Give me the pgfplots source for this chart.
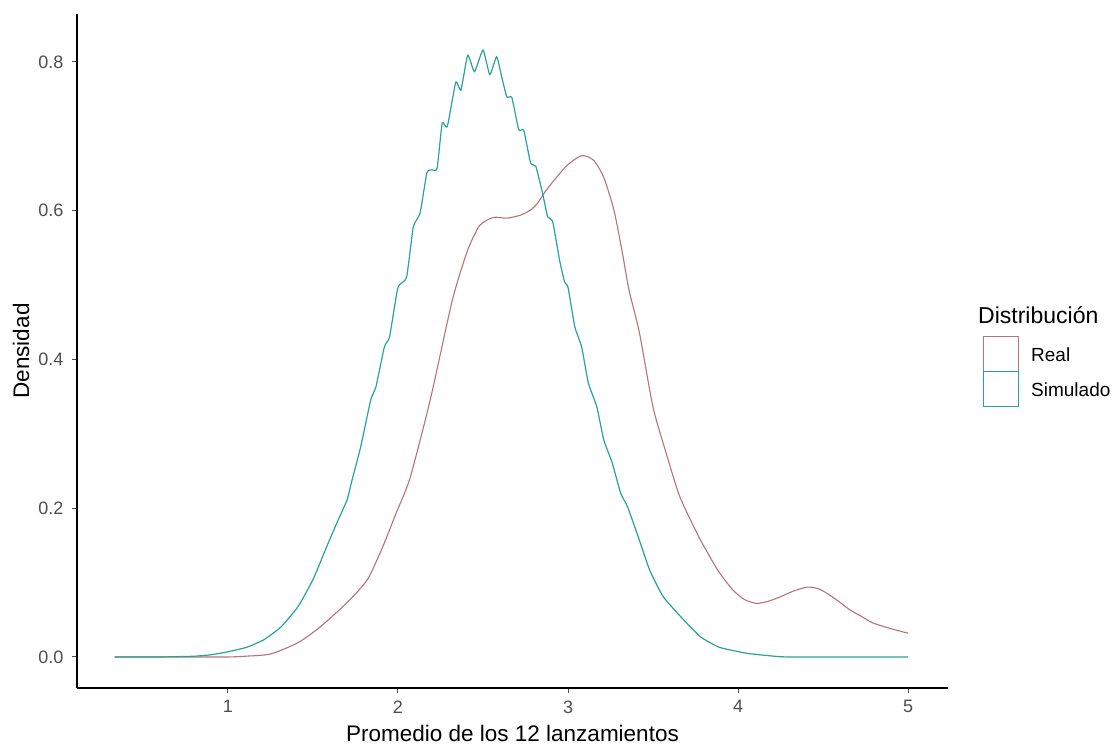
\documentclass[border=0pt]{standalone}
\usepackage{fontspec}
\setmainfont{Liberation Sans}
\usepackage{pgfplots}
\pgfplotsset{compat=1.18}
\usepackage{pgfplotstable}
\definecolor{real}{HTML}{B5737A}
\definecolor{simu}{HTML}{27A592}
\definecolor{ticktxt}{HTML}{4D4D4D}

% densidad de la distribucion real
\pgfplotstableread{
x y
0.333 0.000
0.60 0.000
0.80 0.000
1.00 0.000
1.10 0.001
1.25 0.004
1.41 0.019
1.54 0.040
1.70 0.073
1.82 0.104
1.91 0.148
1.99 0.194
2.07 0.240
2.19 0.346
2.32 0.480
2.41 0.547
2.48 0.580
2.56 0.591
2.64 0.590
2.72 0.594
2.78 0.601
2.82 0.610
2.88 0.630
2.99 0.660
3.08 0.674
3.15 0.668
3.21 0.645
3.27 0.601
3.32 0.543
3.36 0.492
3.42 0.436
3.50 0.336
3.58 0.272
3.65 0.220
3.70 0.194
3.78 0.157
3.88 0.117
3.97 0.090
4.04 0.077
4.11 0.072
4.18 0.075
4.25 0.081
4.33 0.089
4.41 0.094
4.47 0.092
4.52 0.086
4.59 0.075
4.66 0.063
4.73 0.054
4.79 0.046
4.90 0.038
5.00 0.032
}\real

% densidad de la distribucion simulada
\pgfplotstableread{
x y
0.333 0.000
0.60 0.000
0.80 0.001
0.90 0.003
1.00 0.007
1.11 0.013
1.21 0.023
1.31 0.040
1.41 0.067
1.50 0.104
1.58 0.148
1.64 0.180
1.70 0.211
1.73 0.238
1.78 0.282
1.84 0.346
1.87 0.363
1.92 0.417
1.95 0.430
2.00 0.497
2.05 0.510
2.09 0.578
2.13 0.597
2.17 0.651
2.20 0.655
2.23 0.657
2.26 0.718
2.29 0.713
2.34 0.773
2.37 0.762
2.41 0.809
2.45 0.787
2.50 0.816
2.54 0.783
2.58 0.807
2.61 0.780
2.64 0.753
2.67 0.752
2.71 0.709
2.74 0.708
2.78 0.664
2.81 0.660
2.85 0.624
2.88 0.592
2.91 0.585
2.95 0.534
2.98 0.504
3.00 0.497
3.04 0.444
3.08 0.417
3.12 0.368
3.17 0.336
3.21 0.292
3.26 0.261
3.31 0.220
3.35 0.202
3.42 0.157
3.48 0.117
3.56 0.081
3.68 0.050
3.78 0.027
3.89 0.013
4.05 0.005
4.17 0.002
4.30 0.000
5.00 0.000
}\simu

\begin{document}
\begin{tikzpicture}
\begin{axis}[
    name=ax,
    scale only axis,
    width=871pt, height=674pt,
    xmin=0.112, xmax=5.235,
    ymin=-0.0417, ymax=0.8645,
    axis lines=left,
    axis line style={-, black, line width=1.1pt},
    tick align=outside,
    major tick length=5pt,
    tick style={ticktxt, line width=1pt},
    xtick={1,2,3,4,5},
    ytick={0,0.2,0.4,0.6,0.8},
    yticklabel style={/pgf/number format/fixed, /pgf/number format/fixed zerofill, /pgf/number format/precision=1},
    /pgf/number format/assume math mode=true,
    tick label style={font=\fontsize{18}{21}\selectfont, text=ticktxt},
    xticklabel style={yshift=-4pt},
    yticklabel style={xshift=-5pt},
    xlabel={Promedio de los 12 lanzamientos},
    ylabel={Densidad},
    label style={font=\fontsize{22.5}{26}\selectfont},
    xlabel style={at={(axis description cs:0.5,0)}, anchor=center, yshift=-45pt},
    ylabel style={at={(axis description cs:0,0.5)}, anchor=center, yshift=56pt},
    clip=false,
]
\addplot[real, line width=1.1pt, smooth, tension=0.4] table[x=x, y=y] {\real};
\addplot[simu, line width=1.2pt, smooth, tension=0.3] table[x=x, y=y] {\simu};
\end{axis}
% leyenda
\begin{scope}[shift={(ax.south west)}, x=1pt, y=1pt]
  \node[anchor=west, font=\fontsize{23}{26}\selectfont, inner sep=0pt] at (901,373) {Distribución};
  \draw[real, line width=1pt] (906,316) rectangle (941,351);
  \draw[simu, line width=1pt] (906,281) rectangle (941,316);
  \node[anchor=west, font=\fontsize{19}{22}\selectfont, inner sep=0pt] at (954,333.5) {Real};
  \node[anchor=west, font=\fontsize{19}{22}\selectfont, inner sep=0pt] at (954,298.5) {Simulado};
\end{scope}
\pgfresetboundingbox
\path ([xshift=-77pt,yshift=-60pt]ax.south west) rectangle ([xshift=170pt,yshift=14pt]ax.north east);
\end{tikzpicture}
\end{document}
